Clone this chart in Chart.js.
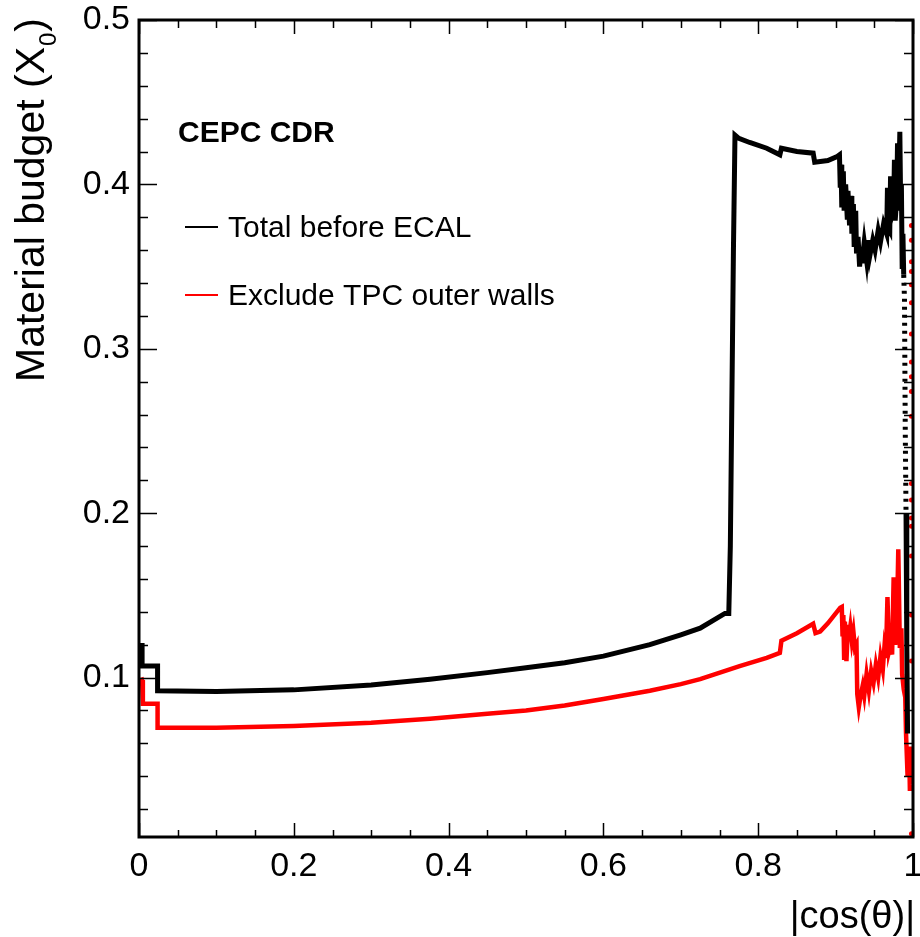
<!DOCTYPE html>
<html>
<head>
<meta charset="utf-8">
<script src="https://cdn.jsdelivr.net/npm/chart.js@4.4.1/dist/chart.umd.min.js"></script>
<style>
  html, body { margin: 0; padding: 0; background: #fff; overflow: hidden; }
  canvas { display: block; }
</style>
</head>
<body>
<canvas id="budget" width="920" height="937"></canvas>
<script>
// |cos(theta)| and material budget (X0)
var totalX = [0.004, 0.004, 0.024, 0.024, 0.10, 0.20, 0.30, 0.376, 0.45, 0.50, 0.55, 0.60, 0.66, 0.70, 0.725, 0.757, 0.762,
  0.764, 0.766, 0.768, 0.770, 0.775, 0.789, 0.811, 0.828, 0.830, 0.850, 0.871, 0.873, 0.890, 0.902, 0.905,
  0.906, 0.907, 0.908, 0.910, 0.911, 0.913, 0.915, 0.916, 0.918, 0.920, 0.921, 0.923, 0.924, 0.926, 0.927, 0.929,
  0.931, 0.933, 0.934, 0.937, 0.940, 0.942, 0.944, 0.948, 0.951, 0.955, 0.958, 0.962, 0.966, 0.967, 0.968, 0.970,
  0.971, 0.972, 0.975, 0.976, 0.977, 0.979, 0.980, 0.981, 0.983, 0.984, 0.985, 0.986,
  0.987, 0.988, 0.989, 0.990, 0.991, 0.992, 0.993];
var totalY = [0.121, 0.107, 0.107, 0.092, 0.0915, 0.0925, 0.0955, 0.099, 0.103, 0.106, 0.109, 0.113, 0.120, 0.126, 0.130, 0.139, 0.139,
  0.18, 0.27, 0.36, 0.430, 0.428, 0.4255, 0.422, 0.418, 0.422, 0.420, 0.419, 0.4135, 0.4145, 0.417, 0.418,
  0.398, 0.412, 0.386, 0.408, 0.384, 0.400, 0.380, 0.396, 0.375, 0.393, 0.370, 0.388, 0.362, 0.384, 0.358, 0.368,
  0.350, 0.362, 0.352, 0.365, 0.354, 0.366, 0.356, 0.366, 0.360, 0.372, 0.365, 0.376, 0.370, 0.398, 0.374, 0.372,
  0.405, 0.380, 0.386, 0.415, 0.378, 0.392, 0.425, 0.384, 0.432, 0.390, 0.400, 0.350,
  0.370, 0.345, 0.33, 0.25, 0.20, 0.12, 0.066];

var exclX = [0.003, 0.004, 0.005, 0.024, 0.024, 0.10, 0.20, 0.30, 0.376, 0.45, 0.50, 0.55, 0.60, 0.66, 0.70, 0.725, 0.776,
  0.811, 0.828, 0.830, 0.850, 0.871, 0.874, 0.880, 0.890, 0.906, 0.908,
  0.909, 0.910, 0.911, 0.912, 0.914, 0.916, 0.917, 0.919, 0.921, 0.923, 0.925, 0.927, 0.928, 0.930, 0.932, 0.935, 0.937, 0.940,
  0.943, 0.946, 0.949, 0.952, 0.955, 0.958, 0.961, 0.963, 0.965, 0.967, 0.969, 0.971, 0.973, 0.975, 0.977, 0.979,
  0.981, 0.983, 0.985, 0.986, 0.988, 0.990, 0.991, 0.993, 0.995, 0.996, 0.998, 0.999];
var exclY = [0.100, 0.0985, 0.084, 0.084, 0.0695, 0.0695, 0.0705, 0.0725, 0.075, 0.078, 0.080, 0.083, 0.087, 0.092, 0.096, 0.099, 0.107,
  0.112, 0.115, 0.1224, 0.127, 0.1327, 0.127, 0.128, 0.133, 0.1425, 0.143,
  0.125, 0.138, 0.112, 0.134, 0.110, 0.132, 0.124, 0.131, 0.122, 0.128, 0.118, 0.120, 0.090, 0.082, 0.088, 0.095, 0.089, 0.102,
  0.092, 0.104, 0.097, 0.108, 0.100, 0.113, 0.105, 0.118, 0.112, 0.149, 0.116, 0.120, 0.114, 0.161, 0.120, 0.130,
  0.178, 0.118, 0.130, 0.102, 0.093, 0.088, 0.066, 0.040, 0.058, 0.031, 0.050, 0.035];

// scattered red bins sitting on the right edge
var edgeX = 0.998;
var edgeY = [0.375, 0.366, 0.353, 0.347, 0.339, 0.328, 0.309, 0.292, 0.283, 0.274, 0.259, 0.218, 0.208, 0.197,
  0.192, 0.174, 0.138, 0.110, 0.005];

var xTickValues = [0, 0.2, 0.4, 0.6, 0.8, 1];
var xTickLabels = ['0', '0.2', '0.4', '0.6', '0.8', '1'];
var yTickValues = [0.1, 0.2, 0.3, 0.4, 0.5];
var yTickLabels = ['0.1', '0.2', '0.3', '0.4', '0.5'];
var yMin = 0.003, yMax = 0.5;

var seriesNames = ['Total before ECAL', 'Exclude TPC outer walls'];
var FONT = "'Liberation Sans', Arial, Helvetica, sans-serif";

function pts(xs, ys) {
  var out = [];
  for (var i = 0; i < xs.length; i++) out.push({ x: xs[i], y: ys[i] });
  return out;
}

var rootFrame = {
  id: 'rootFrame',
  afterDatasetsDraw: function (chart) {
    var ctx = chart.ctx, a = chart.chartArea;
    var xs = chart.scales.x, ys = chart.scales.y;
    ctx.save();
    ctx.strokeStyle = '#000';
    ctx.lineWidth = 1.5;
    ctx.beginPath();
    // x ticks, bottom and top, pointing inwards
    for (var k = 0; k <= 20; k++) {
      var v = k * 0.05, px = Math.round(xs.getPixelForValue(v)) + 0.5;
      var major = (k % 4 == 0);
      var lb = major ? 14 : 7, lt = major ? 14 : 8;
      ctx.moveTo(px, a.bottom); ctx.lineTo(px, a.bottom - lb);
      ctx.moveTo(px, a.top); ctx.lineTo(px, a.top + lt);
    }
    // y ticks, left and right
    for (var j = 0; j <= 25; j++) {
      var vy = j * 0.02;
      if (vy < yMin || vy > yMax + 1e-9) continue;
      var py = Math.round(ys.getPixelForValue(vy)) + 0.5;
      var majorY = (j % 5 == 0);
      var ll = majorY ? 18 : 9;
      ctx.moveTo(a.left, py); ctx.lineTo(a.left + ll, py);
      ctx.moveTo(a.right, py); ctx.lineTo(a.right - ll, py);
    }
    ctx.stroke();
    ctx.lineWidth = 3;
    ctx.strokeRect(a.left, a.top, a.right - a.left, a.bottom - a.top);

    // axis titles
    ctx.fillStyle = '#000';
    ctx.textBaseline = 'alphabetic';
    ctx.font = '38px ' + FONT;
    ctx.textAlign = 'right';
    ctx.fillText('|cos(\u03b8)|', a.right + 2, 928);

    var main = 'Material budget (X', sub = '0', close = ')';
    ctx.font = '41px ' + FONT;
    var wMain = ctx.measureText(main).width, wClose = ctx.measureText(close).width;
    ctx.font = '24px ' + FONT;
    var wSub = ctx.measureText(sub).width;
    var total = wMain + wSub + 2 + wClose;
    ctx.save();
    ctx.translate(44, 18);
    ctx.rotate(-Math.PI / 2);
    ctx.textAlign = 'left';
    ctx.font = '41px ' + FONT;
    ctx.fillText(main, -total, 0);
    ctx.font = '24px ' + FONT;
    ctx.fillText(sub, -total + wMain + 1, 12);
    ctx.font = '41px ' + FONT;
    ctx.fillText(close, -wClose, 0);
    ctx.restore();

    // label and legend
    ctx.textAlign = 'left';
    ctx.textBaseline = 'middle';
    ctx.font = 'bold 30px ' + FONT;
    ctx.fillText('CEPC CDR', 178, 134);
    ctx.font = '30px ' + FONT;
    var rows = [227, 295];
    for (var r = 0; r < 2; r++) {
      var ds = chart.data.datasets[r];
      ctx.strokeStyle = ds.borderColor;
      ctx.lineWidth = 2;
      ctx.beginPath();
      ctx.moveTo(185, rows[r]); ctx.lineTo(218, rows[r]);
      ctx.stroke();
      ctx.fillStyle = '#000';
      ctx.fillText(ds.label, 228, rows[r] + 2);
    }
    ctx.restore();
  }
};

new Chart(document.getElementById('budget'), {
  type: 'scatter',
  data: {
    datasets: [{
      label: seriesNames[0],
      data: pts(totalX, totalY),
      showLine: true,
      borderColor: '#000000',
      borderWidth: 5,
      pointRadius: 0,
      tension: 0,
      segment: {
        borderDash: function (c) {
          return (c.p0.parsed.x >= 0.9875 && c.p1.parsed.y >= 0.2) ? [3, 5] : undefined;
        }
      }
    }, {
      label: seriesNames[1],
      data: pts(exclX, exclY),
      showLine: true,
      borderColor: '#ff0000',
      borderWidth: 4.5,
      pointRadius: 0,
      tension: 0
    }, {
      label: 'edge',
      data: edgeY.map(function (v) { return { x: edgeX, y: v }; }),
      showLine: false,
      pointRadius: 2.5,
      pointBorderWidth: 0,
      backgroundColor: '#ff0000',
      borderColor: '#ff0000'
    }]
  },
  options: {
    responsive: false,
    devicePixelRatio: 1,
    animation: false,
    layout: { padding: { top: 20, right: 7, left: 0, bottom: 0 } },
    plugins: { legend: { display: false }, tooltip: { enabled: false } },
    scales: {
      x: {
        type: 'linear', min: 0, max: 1,
        grid: { display: false, drawTicks: false },
        border: { display: false },
        afterBuildTicks: function (s) { s.ticks = xTickValues.map(function (v) { return { value: v }; }); },
        afterFit: function (s) { s.height = 100; s.paddingLeft = 0; s.paddingRight = 0; },
        ticks: {
          autoSkip: false, maxRotation: 0, padding: 9, color: '#000',
          font: { family: FONT, size: 34 },
          callback: function (v) { return xTickLabels[xTickValues.indexOf(v)]; }
        }
      },
      y: {
        type: 'linear', min: yMin, max: yMax,
        grid: { display: false, drawTicks: false },
        border: { display: false },
        afterBuildTicks: function (s) { s.ticks = yTickValues.map(function (v) { return { value: v }; }); },
        afterFit: function (s) { s.width = 139; s.paddingTop = 0; s.paddingBottom = 0; },
        ticks: {
          autoSkip: false, padding: 9, color: '#000',
          font: { family: FONT, size: 34 },
          callback: function (v) { return yTickLabels[yTickValues.indexOf(v)]; }
        }
      }
    }
  },
  plugins: [rootFrame]
});
</script>
</body>
</html>
